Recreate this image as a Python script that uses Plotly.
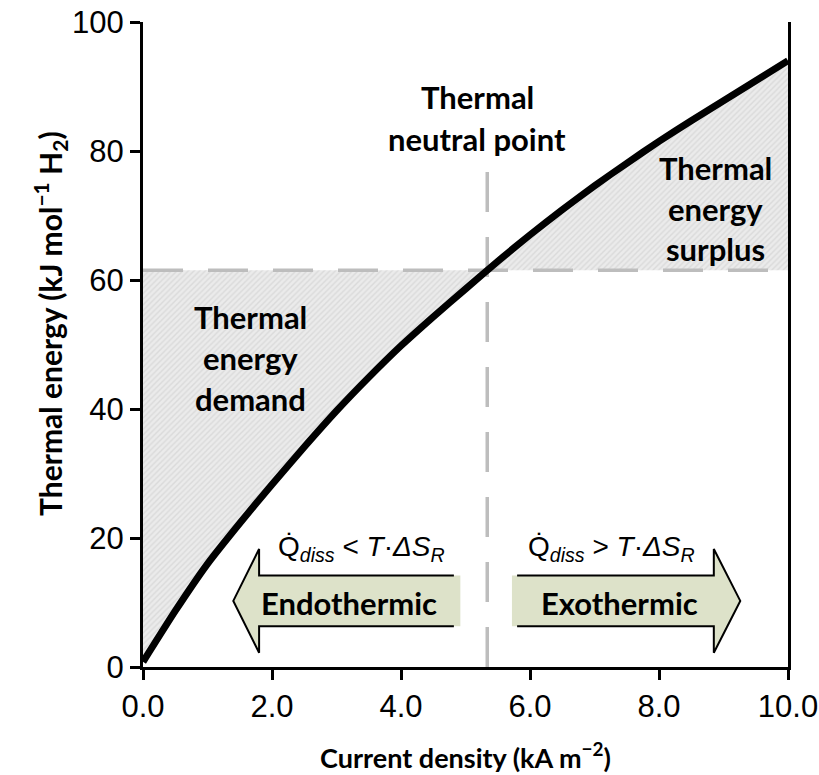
import numpy as np
import plotly.graph_objects as go

# ---------------- data ----------------
current_density = [0.0, 0.5, 1.0, 1.5, 2.0, 2.5, 3.0, 3.5, 4.0, 4.5, 5.0,
                   5.5, 6.0, 6.5, 7.0, 7.5, 8.0, 8.5, 9.0, 9.5, 10.0]
thermal_energy = [0.8, 8.7, 16.0, 22.3, 28.3, 34.1, 39.7, 44.9, 49.8, 54.3, 58.6,
                  62.9, 67.0, 70.9, 74.6, 78.1, 81.5, 84.7, 87.8, 90.9, 94.0]
neutral_energy = 61.5          # thermal neutral level (kJ/mol H2)
neutral_line_top = 77.5        # top of the vertical dashed marker
x_ticks = [0, 2, 4, 6, 8, 10]
x_tick_labels = ["0.0", "2.0", "4.0", "6.0", "8.0", "10.0"]
y_ticks = [0, 20, 40, 60, 80, 100]
y_tick_labels = ["0", "20", "40", "60", "80", "100"]

# ---------------- derived ----------------
cd = np.array(current_density)
te = np.array(thermal_energy)
x_neutral = float(np.interp(neutral_energy, te, cd))
x_max = cd[-1]

left = cd < x_neutral
right = cd > x_neutral
demand_x = list(cd[left]) + [x_neutral, 0.0]
demand_y = list(te[left]) + [neutral_energy, neutral_energy]
surplus_x = [x_neutral] + list(cd[right]) + [x_max]
surplus_y = [neutral_energy] + list(te[right]) + [neutral_energy]

GRAY_FILL = dict(shape="/", bgcolor="#ebebeb", fgcolor="#c9c9c9", size=4, solidity=0.35)
DASH_COLOR = "#bdbdbd"
TEXT_FONT = "Lato"
NUM_FONT = "Liberation Sans"

fig = go.Figure()
fig.add_trace(go.Scatter(x=demand_x, y=demand_y, mode="lines", fill="toself",
                         fillcolor="#e6e6e6", fillpattern=GRAY_FILL,
                         line=dict(width=0), hoverinfo="skip"))
fig.add_trace(go.Scatter(x=surplus_x, y=surplus_y, mode="lines", fill="toself",
                         fillcolor="#e6e6e6", fillpattern=GRAY_FILL,
                         line=dict(width=0), hoverinfo="skip"))
fig.add_trace(go.Scatter(x=[0, x_max], y=[neutral_energy, neutral_energy], mode="lines",
                         line=dict(color=DASH_COLOR, width=3.5, dash="40px,25px"),
                         hoverinfo="skip"))
fig.add_trace(go.Scatter(x=[x_neutral, x_neutral], y=[0, neutral_line_top], mode="lines",
                         line=dict(color=DASH_COLOR, width=3.5, dash="40px,25px"),
                         hoverinfo="skip"))
fig.add_trace(go.Scatter(x=current_density, y=thermal_energy, mode="lines",
                         line=dict(color="black", width=7, shape="spline", smoothing=0.5),
                         cliponaxis=False))

# ---------------- arrows (decorations) ----------------
ARROW_FILL = "#dde2c9"
body_top, body_bot, head_top, head_bot, mid = 14.2, 6.3, 18.3, 2.2, 10.25
shapes = []
# Endothermic (pointing left)
e_tip, e_base, e_fill_end, e_line_end = 1.40, 1.80, 4.92, 4.82
shapes.append(dict(type="path", xref="x", yref="y", layer="above",
                   path=(f"M{e_fill_end},{body_top} L{e_base},{body_top} L{e_base},{head_top} "
                         f"L{e_tip},{mid} L{e_base},{head_bot} L{e_base},{body_bot} "
                         f"L{e_fill_end},{body_bot} Z"),
                   fillcolor=ARROW_FILL, line=dict(width=0)))
shapes.append(dict(type="path", xref="x", yref="y", layer="above",
                   path=(f"M{e_line_end},{body_top} L{e_base},{body_top} L{e_base},{head_top} "
                         f"L{e_tip},{mid} L{e_base},{head_bot} L{e_base},{body_bot} "
                         f"L{e_line_end},{body_bot}"),
                   fillcolor="rgba(0,0,0,0)", line=dict(color="black", width=2)))
# Exothermic (pointing right)
x_tip, x_base, x_fill_start, x_line_start = 9.26, 8.85, 5.72, 5.80
shapes.append(dict(type="path", xref="x", yref="y", layer="above",
                   path=(f"M{x_fill_start},{body_top} L{x_base},{body_top} L{x_base},{head_top} "
                         f"L{x_tip},{mid} L{x_base},{head_bot} L{x_base},{body_bot} "
                         f"L{x_fill_start},{body_bot} Z"),
                   fillcolor=ARROW_FILL, line=dict(width=0)))
shapes.append(dict(type="path", xref="x", yref="y", layer="above",
                   path=(f"M{x_line_start},{body_top} L{x_base},{body_top} L{x_base},{head_top} "
                         f"L{x_tip},{mid} L{x_base},{head_bot} L{x_base},{body_bot} "
                         f"L{x_line_start},{body_bot}"),
                   fillcolor="rgba(0,0,0,0)", line=dict(color="black", width=2)))

# ---------------- annotations ----------------
def label(x, y, text, size=31, family=TEXT_FONT):
    return dict(x=x, y=y, xref="x", yref="y", text=text, showarrow=False,
                xanchor="center", yanchor="middle",
                font=dict(family=family, size=size, color="black"))

annotations = [
    label(5.18, 88.4, "<b>Thermal</b>"),
    label(5.18, 81.9, "<b>neutral point</b>"),
    label(1.66, 54.3, "<b>Thermal</b>"),
    label(1.66, 47.9, "<b>energy</b>"),
    label(1.66, 41.6, "<b>demand</b>"),
    label(8.87, 77.3, "<b>Thermal</b>"),
    label(8.87, 71.0, "<b>energy</b>"),
    label(8.87, 64.8, "<b>surplus</b>"),
    label(3.20, 10.0, "<b>Endothermic</b>"),
    label(7.38, 10.0, "<b>Exothermic</b>"),
    label(3.39, 18.4, "Q\u0307<sub><i>diss</i></sub> &lt; <i>T</i>·<i>ΔS</i><sub><i>R</i></sub>",
          size=28, family=NUM_FONT),
    label(7.26, 18.4, "Q\u0307<sub><i>diss</i></sub> &gt; <i>T</i>·<i>ΔS</i><sub><i>R</i></sub>",
          size=28, family=NUM_FONT),
    # y-axis title
    dict(x=-0.144, y=0.532, xref="paper", yref="paper", textangle=-90, showarrow=False,
         xanchor="center", yanchor="middle",
         text="<b>Thermal energy (kJ mol<sup>−1</sup> H<sub>2</sub>)</b>",
         font=dict(family=TEXT_FONT, size=30, color="black")),
]

axis_common = dict(showgrid=False, zeroline=False, showline=True, linecolor="black",
                   linewidth=3, ticks="outside", ticklen=10, tickwidth=3, tickcolor="black",
                   ticklabeloverflow="allow", automargin=False,
                   tickfont=dict(family=NUM_FONT, size=31, color="black"))

fig.update_layout(
    width=819, height=775,
    margin=dict(l=143, r=31, t=22, b=108),
    paper_bgcolor="white", plot_bgcolor="white",
    showlegend=False,
    shapes=shapes,
    annotations=annotations,
    xaxis=dict(range=[0, 10], tickvals=x_ticks, ticktext=x_tick_labels,
               title=dict(text="<b>Current density (kA m<sup>−2</sup>)</b>",
                          font=dict(family=TEXT_FONT, size=27, color="black"), standoff=26),
               **axis_common),
    yaxis=dict(range=[0, 100], tickvals=y_ticks, ticktext=y_tick_labels, mirror=True,
               **axis_common),
)

fig.write_html("out.html")
